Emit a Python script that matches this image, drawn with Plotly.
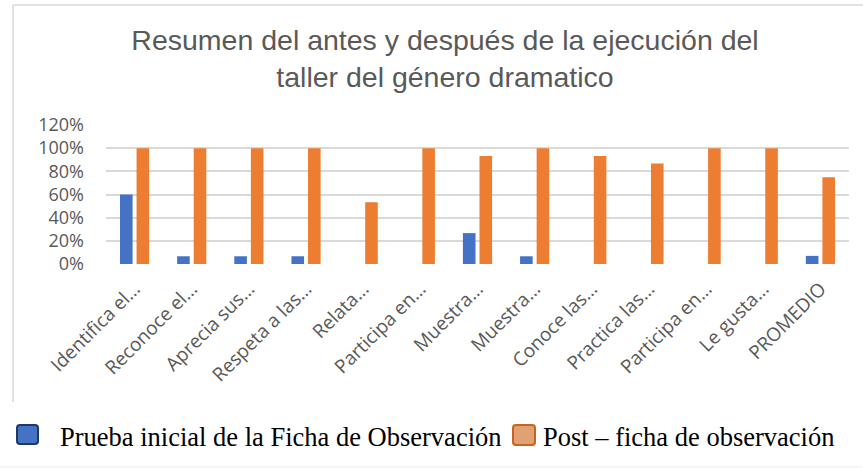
import plotly.graph_objects as go

# Indicadores evaluados en la ficha de observación
categories = [
    "Identifica el…", "Reconoce el…", "Aprecia sus…", "Respeta a las…",
    "Relata…", "Participa en…", "Muestra…", "Muestra…", "Conoce las…",
    "Practica las…", "Participa en…", "Le gusta…", "PROMEDIO",
]
pre_test = [0.60, 0.0667, 0.0667, 0.0667, 0.0, 0.0, 0.2667, 0.0667, 0.0, 0.0, 0.0, 0.0, 0.07]
post_test = [1.0, 1.0, 1.0, 1.0, 0.5333, 1.0, 0.9333, 1.0, 0.9333, 0.8667, 1.0, 1.0, 0.75]
y_ticks = [0, 0.2, 0.4, 0.6, 0.8, 1.0, 1.2]
series_names = ["Prueba inicial de la Ficha de Observación", "Post – ficha de observación"]

W, H = 863, 468
L, R, T, B = 106, 14, 125, 204  # plot area 106..849 x 125..264
PW, PH = W - L - R, H - T - B


def px(x):
    return (x - L) / PW


def py(y):
    return (H - B - y) / PH


x_pos = list(range(len(categories)))

fig = go.Figure()
fig.add_trace(go.Bar(x=x_pos, y=pre_test, name=series_names[0],
                     marker=dict(color="#4472c4", line=dict(width=0))))
fig.add_trace(go.Bar(x=x_pos, y=post_test, name=series_names[1],
                     marker=dict(color="#ed7d31", line=dict(width=0))))

fig.update_layout(
    width=W, height=H,
    margin=dict(l=L, r=R, t=T, b=B),
    paper_bgcolor="white", plot_bgcolor="white",
    barmode="group", bargap=0.42, bargroupgap=0.24,
    showlegend=False,
    title=dict(
        text="Resumen del antes y después de la ejecución del<br>taller del género dramatico",
        font=dict(family="Liberation Sans, Arial, sans-serif", size=28.5, color="#595959"),
        x=445 / W, xanchor="center", xref="container",
        y=1 - 50 / H, yanchor="top", yref="container",
    ),
    font=dict(family="Open Sans, sans-serif", color="#595959"),
)

fig.update_xaxes(
    range=[-0.5, len(categories) - 0.5],
    tickmode="array", tickvals=x_pos, ticktext=categories,
    tickangle=-45, tickfont=dict(size=19, color="#595959"),
    showgrid=False, showline=False, zeroline=False, ticks="",
    ticklabelstandoff=9,
)
fig.update_yaxes(
    range=[0, 1.2], tickvals=y_ticks, tickformat=".0%",
    tickfont=dict(size=18, color="#595959"),
    showgrid=True, gridcolor="#d9d9d9", gridwidth=1.5,
    zeroline=False, showline=False, ticks="", ticklabelstandoff=21,
)

# Marco del gráfico
frame = "#d9d9d9"
fig.add_shape(type="line", xref="paper", yref="paper",
              x0=px(13), x1=px(13), y0=py(5), y1=py(402),
              line=dict(color=frame, width=1.5), layer="below")
fig.add_shape(type="line", xref="paper", yref="paper",
              x0=px(13), x1=px(W), y0=py(5), y1=py(5),
              line=dict(color=frame, width=1.5), layer="below")
fig.add_shape(type="line", xref="paper", yref="paper",
              x0=px(0), x1=px(W), y0=py(467), y1=py(467),
              line=dict(color="#eeeeee", width=1), layer="below")


def rounded_square(x0, y0, x1, y1, r=3):
    a0, a1 = px(x0), px(x1)
    b0, b1 = py(y0), py(y1)
    rx, ry = r / PW, r / PH
    return (f"M {a0 + rx} {b0} L {a1 - rx} {b0} Q {a1} {b0} {a1} {b0 - ry} "
            f"L {a1} {b1 + ry} Q {a1} {b1} {a1 - rx} {b1} L {a0 + rx} {b1} "
            f"Q {a0} {b1} {a0} {b1 + ry} L {a0} {b0 - ry} Q {a0} {b0} {a0 + rx} {b0} Z")


# Leyenda
fig.add_shape(type="path", xref="paper", yref="paper",
              path=rounded_square(17, 425, 38, 444),
              fillcolor="#4472c4", line=dict(color="#203864", width=2))
fig.add_shape(type="path", xref="paper", yref="paper",
              path=rounded_square(513, 425, 535, 445),
              fillcolor="#e2a172", line=dict(color="#c8641e", width=2))
legend_font = dict(family="Liberation Serif, Times New Roman, serif", size=26.5, color="black")
fig.add_annotation(text=series_names[0], xref="paper", yref="paper",
                   x=px(58), y=py(437), xanchor="left", yanchor="middle",
                   showarrow=False, font=legend_font)
fig.add_annotation(text=series_names[1], xref="paper", yref="paper",
                   x=px(541), y=py(437), xanchor="left", yanchor="middle",
                   showarrow=False, font=legend_font)

fig.write_html("out.html")
